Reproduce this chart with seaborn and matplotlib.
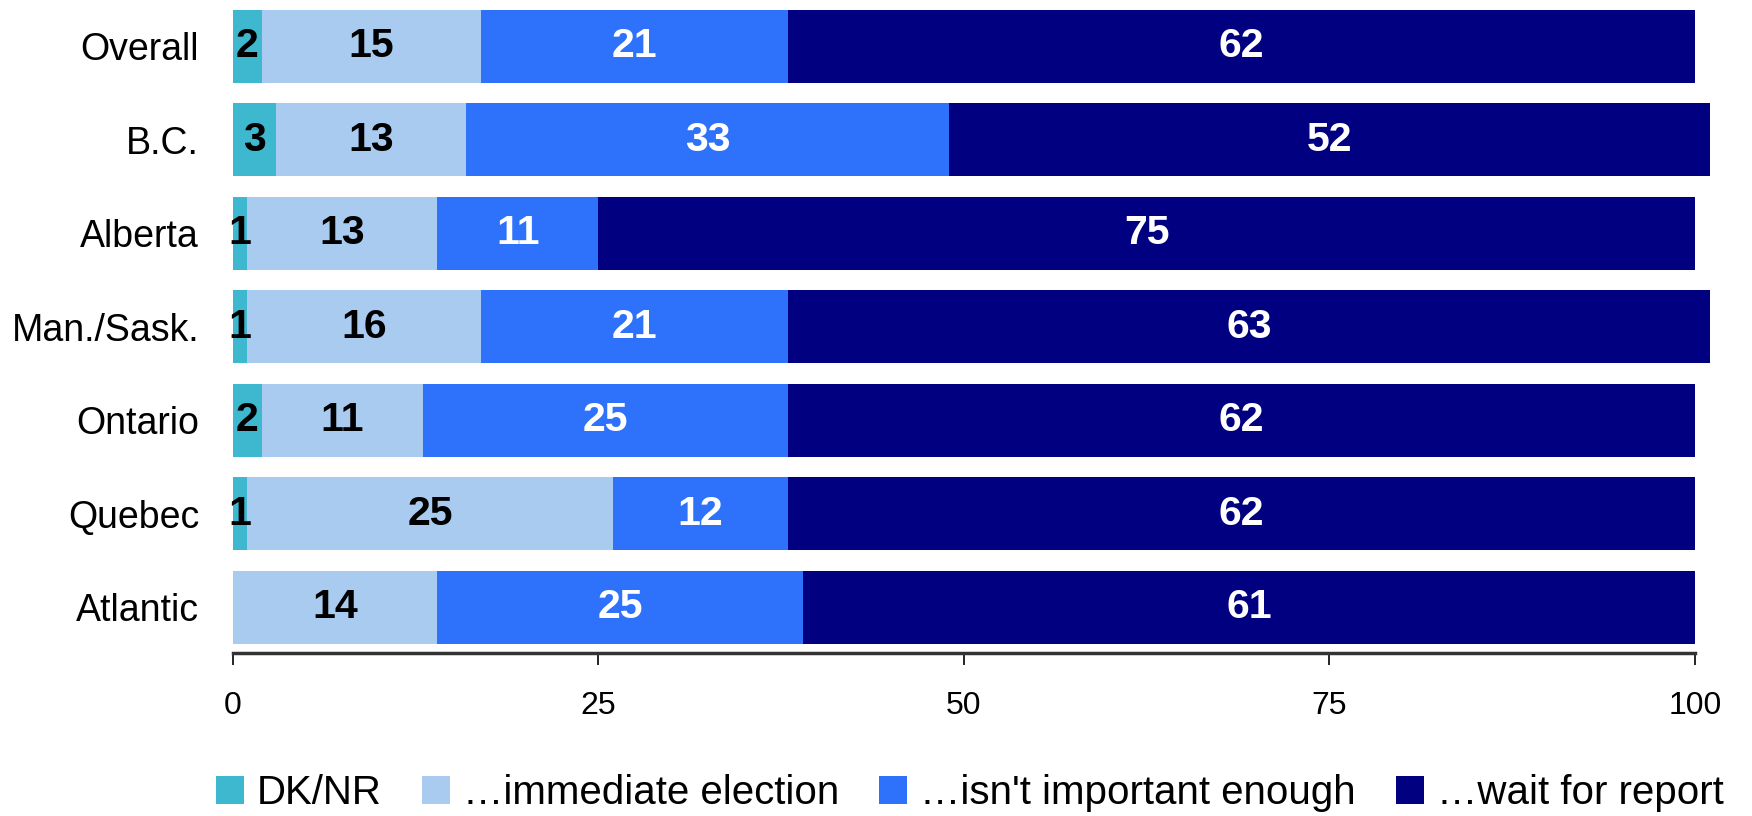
import numpy as np
import pandas as pd
import matplotlib
matplotlib.use("Agg")
import matplotlib.pyplot as plt
from matplotlib import font_manager
import seaborn as sns

# --------- data ---------
regions = ["Overall", "B.C.", "Alberta", "Man./Sask.", "Ontario", "Quebec", "Atlantic"]
series_names = ["DK/NR", "\u2026immediate election", "\u2026isn't important enough", "\u2026wait for report"]
dk_nr = [2, 3, 1, 1, 2, 1, 0]
immediate = [15, 13, 13, 16, 11, 25, 14]
not_important = [21, 33, 11, 21, 25, 12, 25]
wait_report = [62, 52, 75, 63, 62, 62, 61]
x_ticks = [0, 25, 50, 75, 100]
# -------------------------------------------

colors = ["#3db8cf", "#a9cbf0", "#2e71fa", "#000080"]
label_colors = ["black", "black", "white", "white"]

sns.set_style("white")
installed = {f.name for f in font_manager.fontManager.ttflist}
NARROW = "Liberation Sans Narrow" in installed
plt.rcParams["font.family"] = ["Liberation Sans", "DejaVu Sans"]
plt.rcParams["text.color"] = "black"
plt.rcParams["xtick.color"] = "black"
plt.rcParams["ytick.color"] = "black"

# narrow face for axis / legend text when available
if NARROW:
    narrow_fam = ["Liberation Sans Narrow", "Liberation Sans"]
    cat_size, tick_size, leg_size = 32, 26, 32
else:
    narrow_fam = ["Liberation Sans", "DejaVu Sans"]
    cat_size, tick_size, leg_size = 27, 23, 29

values = np.array([dk_nr, immediate, not_important, wait_report], dtype=float)
cum = np.cumsum(values, axis=0)

fig = plt.figure(figsize=(17.52, 8.16), dpi=100)
ax = fig.add_axes([232.5 / 1752, 1 - 653 / 816, (1709.6 - 232.5) / 1752, 653 / 816])

# stacked bars: draw cumulative totals from the widest down
for i in range(len(series_names) - 1, -1, -1):
    df = pd.DataFrame({"region": regions, "total": cum[i]})
    sns.barplot(data=df, x="total", y="region", orient="h", color=colors[i],
                width=0.78, saturation=1, linewidth=0, ax=ax, label=series_names[i])

# segment labels
for i in range(len(series_names)):
    for j, r in enumerate(regions):
        v = values[i, j]
        if v <= 0:
            continue
        ax.text(cum[i, j] - v / 2, j, f"{int(v)}", ha="center", va="center",
                color=label_colors[i], fontsize=29.5, fontweight="bold")

ax.set_xlim(0, 101)
ax.set_ylim(6.488, -0.496)
ax.set_xlabel("")
ax.set_ylabel("")
ax.set_xticks(x_ticks)
ax.set_xticklabels([str(t) for t in x_ticks], fontsize=tick_size, family=narrow_fam)
ax.set_yticks(range(len(regions)))
ax.set_yticklabels(regions, fontsize=cat_size, family=narrow_fam)
ax.tick_params(axis="x", direction="out", length=8.6, width=1.2, color="black", pad=19, bottom=True)
ax.tick_params(axis="y", length=0, pad=24)
for s in ["top", "right", "left"]:
    ax.spines[s].set_visible(False)
ax.spines["bottom"].set_bounds(0, 100)
ax.spines["bottom"].set_linewidth(2.5)
ax.spines["bottom"].set_color("#333333")

handles, labels = ax.get_legend_handles_labels()
order = [labels.index(n) for n in series_names]
if ax.legend_:
    ax.legend_.remove()
fig.legend([handles[k] for k in order], [labels[k] for k in order],
           loc="center", bbox_to_anchor=(0.5535, 0.028), ncol=4, frameon=False,
           prop={"family": narrow_fam, "size": leg_size},
           handlelength=0.7, handleheight=0.68, handletextpad=0.31,
           columnspacing=1.0, borderaxespad=0)

fig.savefig("out.png", dpi=100)
